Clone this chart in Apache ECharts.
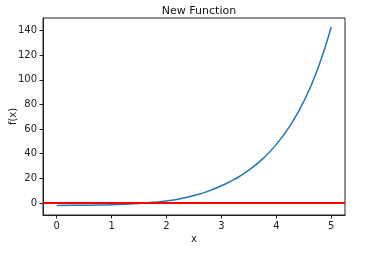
<!DOCTYPE html>
<html>
<head>
<meta charset="utf-8">
<script src="https://cdn.jsdelivr.net/npm/echarts@6/dist/echarts.min.js"></script>
<style>html,body{margin:0;padding:0;background:#fff}#c{width:373px;height:253px}</style>
</head>
<body>
<div id="c"></div>
<script>
// Values
const xValues = [0, 0.25, 0.5, 0.75, 1, 1.25, 1.5, 1.75, 2, 2.25, 2.5, 2.75, 3, 3.25, 3.5, 3.75, 4, 4.25, 4.5, 4.75, 5];
const fValues = [-2.0, -1.97, -1.88, -1.72, -1.45, -1.0, -0.4, 0.5, 1.6, 3.4, 6.0, 9.4, 14.0, 19.5, 26.6, 35.8, 47.6, 62.9, 82.5, 108.5, 143];
const xTicks = [0, 1, 2, 3, 4, 5];
const yTicks = [0, 20, 40, 60, 80, 100, 120, 140];
const hLineValue = 0;

const chart = echarts.init(document.getElementById('c'), null, {renderer: 'canvas'});
const font = 'DejaVu Sans';
chart.setOption({
  animation: false,
  backgroundColor: '#fff',
  title: {
    text: 'New Function',
    left: 194, top: 1, textAlign: 'center',
    textStyle: {fontFamily: font, fontSize: 11, fontWeight: 'normal', color: '#111'}
  },
  grid: {left: 43, right: 28, top: 18, bottom: 38, containLabel: false, outerBoundsMode: 'none',
    show: true, borderColor: '#222', borderWidth: 1, backgroundColor: 'transparent'},
  xAxis: {
    type: 'value', min: -0.25, max: 5.25,
    name: 'x', nameLocation: 'middle', nameGap: 19, nameMoveOverlap: false,
    nameTextStyle: {fontFamily: font, fontSize: 10, color: '#222'},
    axisLine: {show: true, onZero: false, lineStyle: {color: '#222', width: 1}},
    axisTick: {show: true, length: 3.5, inside: false, customValues: xTicks, lineStyle: {color: '#222'}},
    axisLabel: {customValues: xTicks, margin: 6, fontFamily: font, fontSize: 10, color: '#222'},
    splitLine: {show: false}
  },
  yAxis: {
    type: 'value', min: -9.8, max: 150.3,
    name: 'f(x)', nameLocation: 'middle', nameGap: 25, nameRotate: 90, nameMoveOverlap: false,
    nameTextStyle: {fontFamily: font, fontSize: 10, color: '#222'},
    axisLine: {show: true, onZero: false, lineStyle: {color: '#222', width: 1}},
    axisTick: {show: true, length: 3.5, inside: false, customValues: yTicks, lineStyle: {color: '#222'}},
    axisLabel: {customValues: yTicks, margin: 6, fontFamily: font, fontSize: 10, color: '#222'},
    splitLine: {show: false}
  },
  series: [{
    type: 'line',
    data: xValues.map((x, i) => [x, fValues[i]]),
    smooth: true,
    showSymbol: false,
    lineStyle: {color: '#1f77b4', width: 1.5},
    z: 2,
    markLine: {
      silent: true, symbol: 'none', animation: false,
      label: {show: false},
      lineStyle: {color: '#ff0000', width: 2, type: 'solid'},
      data: [{yAxis: hLineValue}]
    }
  }]
});
</script>
</body>
</html>
